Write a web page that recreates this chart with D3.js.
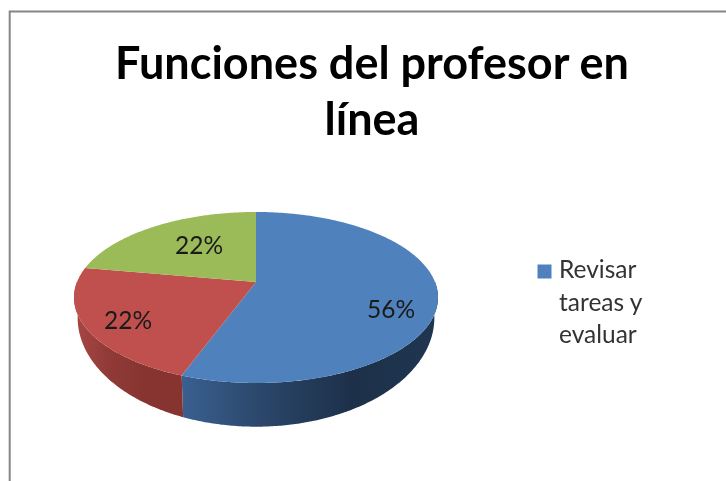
<!DOCTYPE html>
<html>
<head>
<meta charset="utf-8">
<script src="https://cdn.jsdelivr.net/npm/d3@7"></script>
<style>
  html, body { margin: 0; padding: 0; background: #fff; }
  /* the reference is a soft, enlarged screenshot */
  svg { display: block; filter: blur(0.5px); }
  text { font-family: Lato, "Open Sans", sans-serif; }
</style>
</head>
<body>
<svg id="chart" width="726" height="481"></svg>
<script>
const titleLines = ["Funciones del profesor en", "línea"];
const values = [55.6, 22.2, 22.2];
const valueLabels = ["56%", "22%", "22%"];
const legendLines = ["Revisar", "tareas y", "evaluar"];
const faceColors = ["#4f81bd", "#c0504d", "#9bbb59"];
const sideStops = [
  ["#3a6090", "#2a4568", "#1c3049", "#203650"],
  ["#a84744", "#8f3a37", "#873431", "#873431"]
];

const svg = d3.select("#chart");

// the pie is a circle seen in perspective, so its centre sits above the middle of the ellipse
const cx = 256, cy = 282;
const radiusX = 179, radiusY = 82.7, persp = 0.181;
// the lower rim opens up more than the top one
const lowerCy = 298, lowerRadiusY = 105.4, lowerScale = 0.98;

function rimPoint(angle, lower) {
  const u = Math.sin(angle), v = -Math.cos(angle);
  const w = 1 - persp * v;
  if (lower) return [cx + lowerScale * radiusX * u / w, lowerCy + lowerRadiusY * v / w];
  return [cx + radiusX * u / w, cy + radiusY * v / w];
}

function rimAngles(a0, a1) {
  const n = Math.max(2, Math.ceil((a1 - a0) / 0.01));
  return d3.range(n + 1).map(i => a0 + (a1 - a0) * i / n);
}

const line = d3.line();
const pie = d3.pie().sort(null).startAngle(0).endAngle(2 * Math.PI);
const slices = pie(values);

// only the front half of the rim has a visible side
const frontSides = slices
  .map((d, i) => ({
    index: i,
    a0: Math.max(d.startAngle, Math.PI / 2),
    a1: Math.min(d.endAngle, 3 * Math.PI / 2)
  }))
  .filter(d => d.a1 > d.a0);

const defs = svg.append("defs");
frontSides.forEach(d => {
  const xs = rimAngles(d.a0, d.a1).map(a => rimPoint(a, false)[0]);
  const grad = defs.append("linearGradient")
    .attr("id", `side${d.index}`)
    .attr("gradientUnits", "userSpaceOnUse")
    .attr("x1", d3.min(xs)).attr("x2", d3.max(xs))
    .attr("y1", 0).attr("y2", 0);
  const stops = sideStops[d.index];
  stops.forEach((c, j) => {
    grad.append("stop").attr("offset", j / (stops.length - 1)).attr("stop-color", c);
  });
});

// frame, cut off by the right and bottom of the picture
svg.append("path")
  .attr("d", "M9.7,481V11.4H726")
  .attr("fill", "none")
  .attr("stroke", "#868686")
  .attr("stroke-width", 2);

svg.append("g").selectAll("text")
  .data(titleLines)
  .enter().append("text")
  .attr("x", 372)
  .attr("y", (d, i) => 79 + i * 56)
  .attr("text-anchor", "middle")
  .attr("font-size", 45)
  .attr("font-weight", 700)
  .attr("fill", "#000")
  .text(d => d);

svg.append("g").selectAll("path")
  .data(frontSides)
  .enter().append("path")
  .attr("fill", d => `url(#side${d.index})`)
  .attr("d", d => {
    const angles = rimAngles(d.a0, d.a1);
    const top = angles.map(a => rimPoint(a, false));
    const bottom = angles.map(a => rimPoint(a, true)).reverse();
    return line(top.concat(bottom)) + "Z";
  });

svg.append("g").selectAll("path")
  .data(slices)
  .enter().append("path")
  .attr("fill", (d, i) => faceColors[i])
  .attr("d", d => {
    const rim = rimAngles(d.startAngle, d.endAngle).map(a => rimPoint(a, false));
    return line([[cx, cy]].concat(rim)) + "Z";
  });

const labelPos = [[391, 318], [128, 329], [199, 254]];
svg.append("g").selectAll("text")
  .data(valueLabels)
  .enter().append("text")
  .attr("x", (d, i) => labelPos[i][0])
  .attr("y", (d, i) => labelPos[i][1])
  .attr("text-anchor", "middle")
  .attr("font-size", 24.5)
  .attr("fill", "#1a1a1a")
  .text(d => d);

svg.append("rect")
  .attr("x", 537.5).attr("y", 264.5)
  .attr("width", 14).attr("height", 14)
  .attr("fill", faceColors[0]);

svg.append("g").selectAll("text")
  .data(legendLines)
  .enter().append("text")
  .attr("x", 559)
  .attr("y", (d, i) => 278 + i * 32.5)
  .attr("font-size", 24.5)
  .attr("fill", "#333")
  .text(d => d);
</script>
</body>
</html>
